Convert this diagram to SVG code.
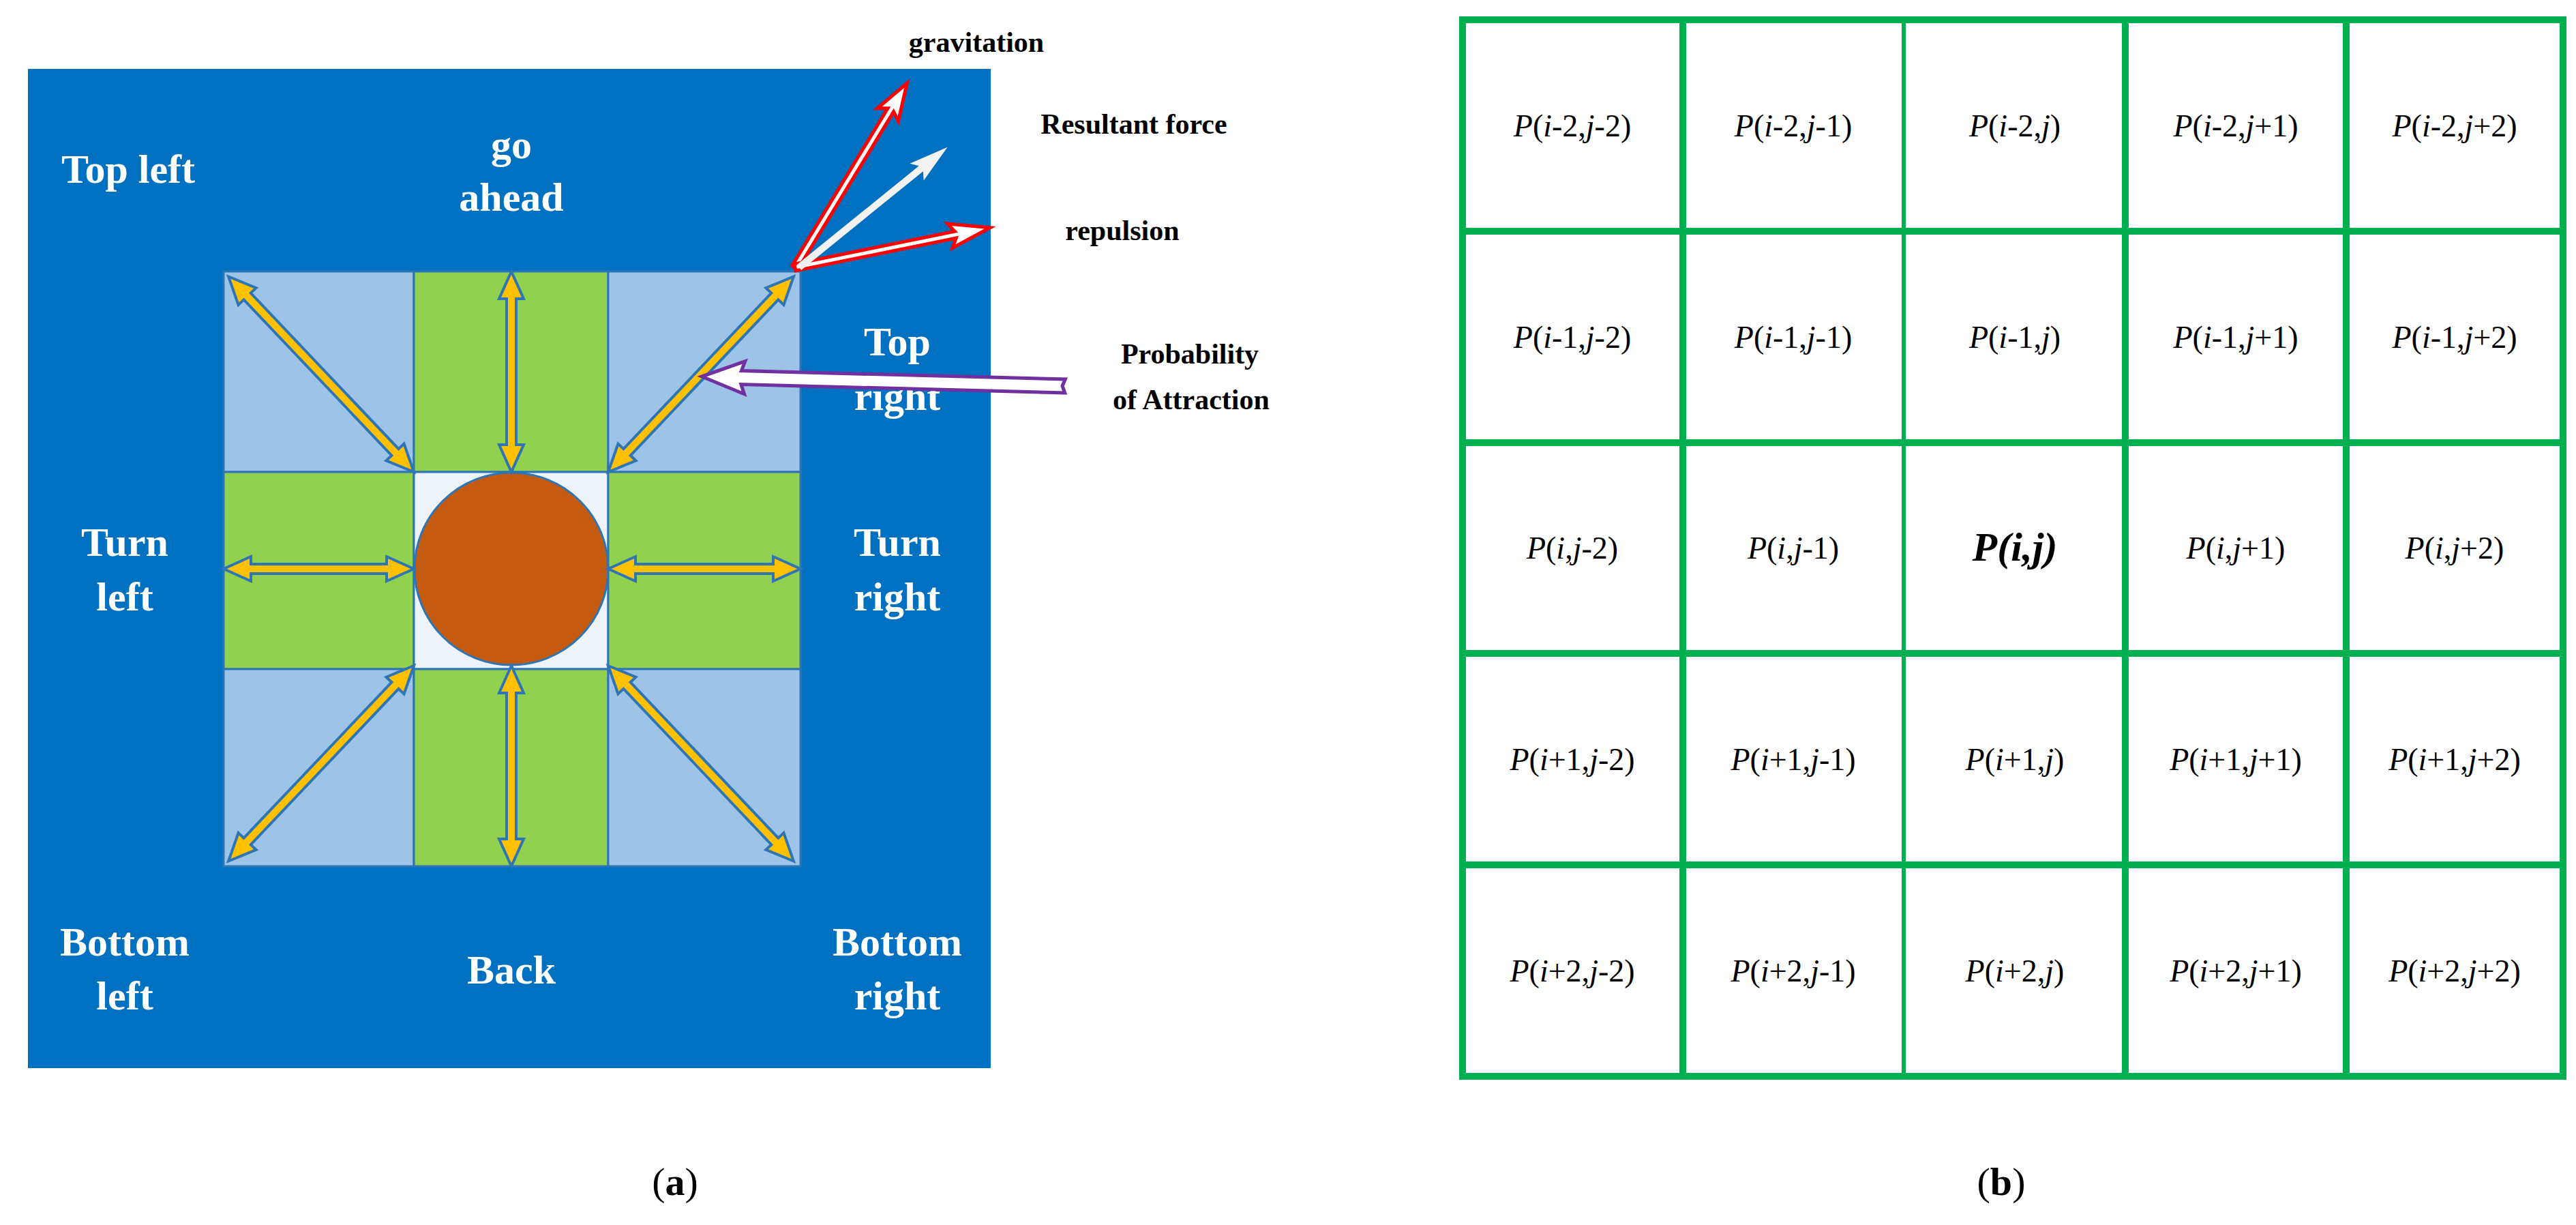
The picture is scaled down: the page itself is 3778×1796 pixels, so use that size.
<svg xmlns="http://www.w3.org/2000/svg" width="3778" height="1796" viewBox="0 0 3778 1796">
<style>
.lbl{font-family:"Liberation Serif",serif;font-weight:bold;font-size:60px;fill:#fff;text-anchor:middle}
.blk{font-family:"Liberation Serif",serif;font-weight:bold;font-size:42px;fill:#000;text-anchor:middle}
.ya{fill:#FFC000;stroke:#2E75B6;stroke-width:4;stroke-linejoin:miter}
.cell{font-family:"Liberation Serif",serif;font-size:46px;fill:#000;text-anchor:middle}
.it{font-style:italic}
.cap{font-family:"Liberation Serif",serif;font-size:58px;fill:#000;text-anchor:middle}
</style>
<rect width="3778" height="1796" fill="#fff"/>
<g id="panel-a">
<rect x="41" y="101" width="1412" height="1465" fill="#0070C0"/>
<g id="cells" stroke="#2E75B6" stroke-width="3">
<rect x="328" y="398" width="279" height="294" fill="#9DC3E6"/>
<rect x="607" y="398" width="285" height="294" fill="#92D050"/>
<rect x="892" y="398" width="282" height="294" fill="#9DC3E6"/>
<rect x="328" y="692" width="279" height="289" fill="#92D050"/>
<rect x="607" y="692" width="285" height="289" fill="#EEF3FA"/>
<rect x="892" y="692" width="282" height="289" fill="#92D050"/>
<rect x="328" y="981" width="279" height="289" fill="#9DC3E6"/>
<rect x="607" y="981" width="285" height="289" fill="#92D050"/>
<rect x="892" y="981" width="282" height="289" fill="#9DC3E6"/>
</g>
<ellipse id="agent" cx="750" cy="834" rx="142" ry="141" fill="#C55A11" stroke="#2E75B6" stroke-width="3"/>
<g id="move-arrows">
<g transform="translate(750,692) rotate(-90)"><polygon class="ya" points="0,0 40,-18 40,-7 254,-7 254,-18 294,0 254,18 254,7 40,7 40,18"/></g>
<g transform="translate(750,976) rotate(90)"><polygon class="ya" points="0,0 40,-18 40,-7 254,-7 254,-18 294,0 254,18 254,7 40,7 40,18"/></g>
<g transform="translate(607,834) rotate(180)"><polygon class="ya" points="0,0 40,-18 40,-7 239,-7 239,-18 279,0 239,18 239,7 40,7 40,18"/></g>
<g transform="translate(892,834)"><polygon class="ya" points="0,0 40,-18 40,-7 242,-7 242,-18 282,0 242,18 242,7 40,7 40,18"/></g>
<g transform="translate(607,692) rotate(-133.5)"><polygon class="ya" points="0,0 40,-18 40,-7 355,-7 355,-18 395,0 355,18 355,7 40,7 40,18"/></g>
<g transform="translate(892,692) rotate(-46.5)"><polygon class="ya" points="0,0 40,-18 40,-7 355,-7 355,-18 395,0 355,18 355,7 40,7 40,18"/></g>
<g transform="translate(607,976) rotate(133.5)"><polygon class="ya" points="0,0 40,-18 40,-7 355,-7 355,-18 395,0 355,18 355,7 40,7 40,18"/></g>
<g transform="translate(892,976) rotate(46.5)"><polygon class="ya" points="0,0 40,-18 40,-7 355,-7 355,-18 395,0 355,18 355,7 40,7 40,18"/></g>
</g>
<g id="labels-a">
<text class="lbl" x="188" y="268">Top left</text>
<text class="lbl" x="750" y="232">go</text>
<text class="lbl" x="750" y="309">ahead</text>
<text class="lbl" x="1316" y="521">Top</text>
<text class="lbl" x="1316" y="601">right</text>
<text class="lbl" x="183" y="815">Turn</text>
<text class="lbl" x="183" y="895">left</text>
<text class="lbl" x="1316" y="815">Turn</text>
<text class="lbl" x="1316" y="895">right</text>
<text class="lbl" x="183" y="1401">Bottom</text>
<text class="lbl" x="183" y="1480">left</text>
<text class="lbl" x="750" y="1442">Back</text>
<text class="lbl" x="1316" y="1401">Bottom</text>
<text class="lbl" x="1316" y="1480">right</text>
</g>
<g id="forces">
<g transform="translate(1166,392) rotate(-58.7)"><polygon points="0,-5 270,-5 262,-18 316,0 262,18 270,5 0,5" fill="#fff" stroke="#FF0000" stroke-width="5"/></g>
<g transform="translate(1166,392) rotate(-11.5)"><polygon points="0,-5 240,-5 232,-18 292,0 232,18 240,5 0,5" fill="#fff" stroke="#FF0000" stroke-width="5"/></g>
<g transform="translate(1172,392) rotate(-39)"><polygon points="0,-5 230,-5 222,-16 280,0 222,16 230,5 0,5" fill="#F2F2F2"/></g>
<g transform="translate(1562,566) rotate(181.5)"><polygon points="0,-10 475,-10 470,-24 533,0 470,24 475,10 0,10 4,0" fill="#fff" stroke="#7030A0" stroke-width="5"/></g>
</g>
<g id="labels-forces">
<text class="blk" x="1432" y="76">gravitation</text>
<text class="blk" x="1663" y="196">Resultant force</text>
<text class="blk" x="1646" y="352">repulsion</text>
<text class="blk" x="1745" y="533">Probability</text>
<text class="blk" x="1747" y="600">of Attraction</text>
</g>
<text class="cap" x="990" y="1752">(<tspan font-weight="bold">a</tspan>)</text>
</g>
<g id="panel-b">
<g id="grid" fill="#fff" stroke="#00B050" stroke-width="10">
<rect x="2145" y="29" width="1614" height="1549"/>
<line x1="2468" y1="29" x2="2468" y2="1578"/><line x1="2792" y1="29" x2="2792" y2="1578" stroke-width="6"/><line x1="3117" y1="29" x2="3117" y2="1578"/><line x1="3441" y1="29" x2="3441" y2="1578"/>
<line x1="2145" y1="339" x2="3759" y2="339"/><line x1="2145" y1="649" x2="3759" y2="649"/><line x1="2145" y1="958" x2="3759" y2="958"/><line x1="2145" y1="1268" x2="3759" y2="1268"/>
</g>
<g id="cell-labels" class="cell">
<text x="2306" y="200"><tspan class="it">P</tspan>(<tspan class="it">i</tspan>-2,<tspan class="it">j</tspan>-2)</text>
<text x="2630" y="200"><tspan class="it">P</tspan>(<tspan class="it">i</tspan>-2,<tspan class="it">j</tspan>-1)</text>
<text x="2955" y="200"><tspan class="it">P</tspan>(<tspan class="it">i</tspan>-2,<tspan class="it">j</tspan>)</text>
<text x="3279" y="200"><tspan class="it">P</tspan>(<tspan class="it">i</tspan>-2,<tspan class="it">j</tspan>+1)</text>
<text x="3600" y="200"><tspan class="it">P</tspan>(<tspan class="it">i</tspan>-2,<tspan class="it">j</tspan>+2)</text>
<text x="2306" y="510"><tspan class="it">P</tspan>(<tspan class="it">i</tspan>-1,<tspan class="it">j</tspan>-2)</text>
<text x="2630" y="510"><tspan class="it">P</tspan>(<tspan class="it">i</tspan>-1,<tspan class="it">j</tspan>-1)</text>
<text x="2955" y="510"><tspan class="it">P</tspan>(<tspan class="it">i</tspan>-1,<tspan class="it">j</tspan>)</text>
<text x="3279" y="510"><tspan class="it">P</tspan>(<tspan class="it">i</tspan>-1,<tspan class="it">j</tspan>+1)</text>
<text x="3600" y="510"><tspan class="it">P</tspan>(<tspan class="it">i</tspan>-1,<tspan class="it">j</tspan>+2)</text>
<text x="2306" y="819"><tspan class="it">P</tspan>(<tspan class="it">i</tspan>,<tspan class="it">j</tspan>-2)</text>
<text x="2630" y="819"><tspan class="it">P</tspan>(<tspan class="it">i</tspan>,<tspan class="it">j</tspan>-1)</text>
<text x="2955" y="822" font-size="60" font-weight="bold" font-style="italic">P(i,j)</text>
<text x="3279" y="819"><tspan class="it">P</tspan>(<tspan class="it">i</tspan>,<tspan class="it">j</tspan>+1)</text>
<text x="3600" y="819"><tspan class="it">P</tspan>(<tspan class="it">i</tspan>,<tspan class="it">j</tspan>+2)</text>
<text x="2306" y="1129"><tspan class="it">P</tspan>(<tspan class="it">i</tspan>+1,<tspan class="it">j</tspan>-2)</text>
<text x="2630" y="1129"><tspan class="it">P</tspan>(<tspan class="it">i</tspan>+1,<tspan class="it">j</tspan>-1)</text>
<text x="2955" y="1129"><tspan class="it">P</tspan>(<tspan class="it">i</tspan>+1,<tspan class="it">j</tspan>)</text>
<text x="3279" y="1129"><tspan class="it">P</tspan>(<tspan class="it">i</tspan>+1,<tspan class="it">j</tspan>+1)</text>
<text x="3600" y="1129"><tspan class="it">P</tspan>(<tspan class="it">i</tspan>+1,<tspan class="it">j</tspan>+2)</text>
<text x="2306" y="1439"><tspan class="it">P</tspan>(<tspan class="it">i</tspan>+2,<tspan class="it">j</tspan>-2)</text>
<text x="2630" y="1439"><tspan class="it">P</tspan>(<tspan class="it">i</tspan>+2,<tspan class="it">j</tspan>-1)</text>
<text x="2955" y="1439"><tspan class="it">P</tspan>(<tspan class="it">i</tspan>+2,<tspan class="it">j</tspan>)</text>
<text x="3279" y="1439"><tspan class="it">P</tspan>(<tspan class="it">i</tspan>+2,<tspan class="it">j</tspan>+1)</text>
<text x="3600" y="1439"><tspan class="it">P</tspan>(<tspan class="it">i</tspan>+2,<tspan class="it">j</tspan>+2)</text>
</g>
<text class="cap" x="2935" y="1752">(<tspan font-weight="bold">b</tspan>)</text>
</g>
</svg>
